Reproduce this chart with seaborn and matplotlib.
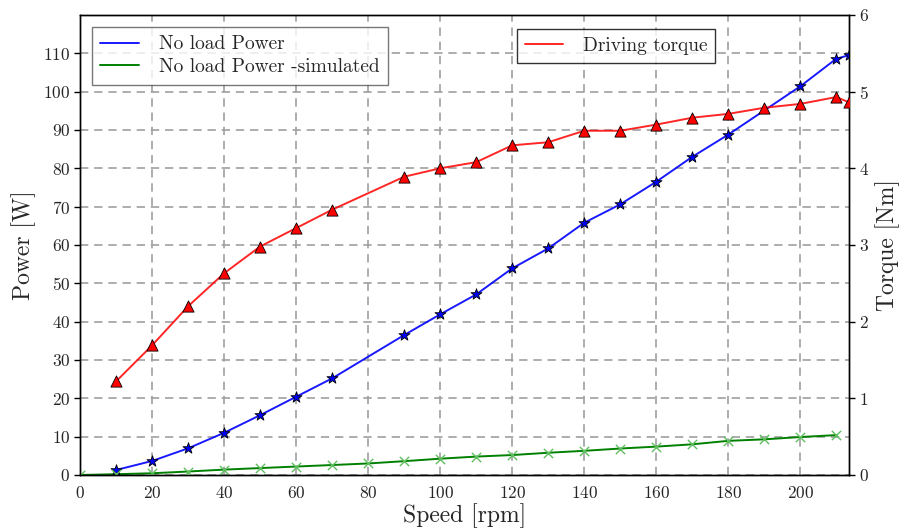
import matplotlib
matplotlib.use("Agg")
import matplotlib.pyplot as plt
import seaborn as sns
import numpy as np

# Measured no-load power (stars)
speed_meas = [10, 20, 30, 40, 50, 60, 70, 90, 100, 110, 120, 130, 140, 150,
              160, 170, 180, 200, 210, 213.5]
power_meas = [1.3, 3.65, 6.95, 11.0, 15.6, 20.4, 25.2, 36.5, 41.9, 47.1, 53.9,
              59.1, 65.8, 70.6, 76.5, 83.0, 88.8, 101.4, 108.6, 109.5]

# Simulated no-load power (crosses)
speed_sim = [0, 10, 20, 30, 40, 50, 60, 70, 80, 90, 100, 110, 120, 130, 140,
             150, 160, 170, 180, 190, 200, 210]
power_sim = [0.0, 0.2, 0.45, 0.9, 1.4, 1.8, 2.2, 2.6, 3.0, 3.6, 4.25, 4.8, 5.2,
             5.8, 6.3, 6.9, 7.4, 8.0, 8.9, 9.3, 9.9, 10.4]

# Driving torque (triangles)
speed_torque = [10, 20, 30, 40, 50, 60, 70, 90, 100, 110, 120, 130, 140, 150,
                160, 170, 180, 190, 200, 210, 213.5]
torque = [1.22, 1.69, 2.2, 2.63, 2.98, 3.22, 3.46, 3.89, 4.0, 4.08, 4.3, 4.34,
          4.49, 4.49, 4.57, 4.66, 4.71, 4.79, 4.84, 4.93, 4.86]

x_ticks = [0, 20, 40, 60, 80, 100, 120, 140, 160, 180, 200]
power_ticks = [0, 10, 20, 30, 40, 50, 60, 70, 80, 90, 100, 110]
torque_ticks = [0, 1, 2, 3, 4, 5, 6]

sns.set_style("white")
plt.rcParams["font.family"] = ["cmr10", "DejaVu Serif"]
plt.rcParams["axes.formatter.use_mathtext"] = True
plt.rcParams["mathtext.fontset"] = "cm"

fig = plt.figure(figsize=(9.02, 5.31), dpi=100)
ax = fig.add_axes([0.0887, 0.1055, 0.8525, 0.8663])
ax2 = ax.twinx()

blue = "#0000ff"
green = "#008000"
red = "#ff0000"

# Power curves on the left axis
sns.lineplot(x=speed_meas, y=power_meas, ax=ax, color=blue, lw=1.4, alpha=0.9,
             label="No load Power", sort=False)
sns.scatterplot(x=speed_meas, y=power_meas, ax=ax, marker="*", s=70,
                color=blue, edgecolor="black", linewidth=0.6, legend=False,
                zorder=3)
sns.lineplot(x=speed_sim, y=power_sim, ax=ax, color=green, lw=1.4,
             label="No load Power -simulated", sort=False)
sns.scatterplot(x=speed_sim, y=power_sim, ax=ax, marker="x", s=45,
                color="#5fbf5f", linewidth=1.0, legend=False, zorder=3)

# Torque curve on the right axis
sns.lineplot(x=speed_torque, y=torque, ax=ax2, color=red, lw=1.4, alpha=0.85,
             label="Driving torque", sort=False)
sns.scatterplot(x=speed_torque, y=torque, ax=ax2, marker="^", s=65,
                color=red, edgecolor="black", linewidth=0.6, legend=False,
                zorder=3)

ax.set_xlim(0, 213.5)
ax.set_ylim(0, 120)
ax2.set_ylim(0, 6)
ax.set_xticks(x_ticks)
ax.set_yticks(power_ticks)
ax2.set_yticks(torque_ticks)

ax.grid(True, color="#a0a0a0", linestyle=(0, (5, 3.5)), linewidth=1.2)
ax.set_axisbelow(True)

for a in (ax, ax2):
    a.tick_params(direction="out", length=4, width=1, labelsize=12.5,
                  color="black", pad=3)
    for s in a.spines.values():
        s.set_color("black")
        s.set_linewidth(1.0)
ax.tick_params(top=False, right=False)
ax2.tick_params(left=False)

ax.set_xlabel("Speed [rpm]", fontsize=17, labelpad=2)
ax.set_ylabel("Power [W]", fontsize=17, labelpad=5)
ax2.set_ylabel("Torque [Nm]", fontsize=17, labelpad=5)

leg1 = ax.legend(loc="upper left", fontsize=14, frameon=True, fancybox=False,
                 borderaxespad=0.6, handlelength=2.0, handletextpad=1.0,
                 borderpad=0.45, labelspacing=0.25)
leg1.get_frame().set_edgecolor("#555555")
leg1.get_frame().set_linewidth(1.0)
leg2 = ax2.legend(loc="upper center", bbox_to_anchor=(0.697, 0.99), fontsize=14,
                  frameon=True, fancybox=False, handlelength=2.0,
                  handletextpad=1.0, borderpad=0.4)
leg2.get_frame().set_edgecolor("black")
leg2.get_frame().set_linewidth(1.0)

fig.savefig("out.png", dpi=100)
